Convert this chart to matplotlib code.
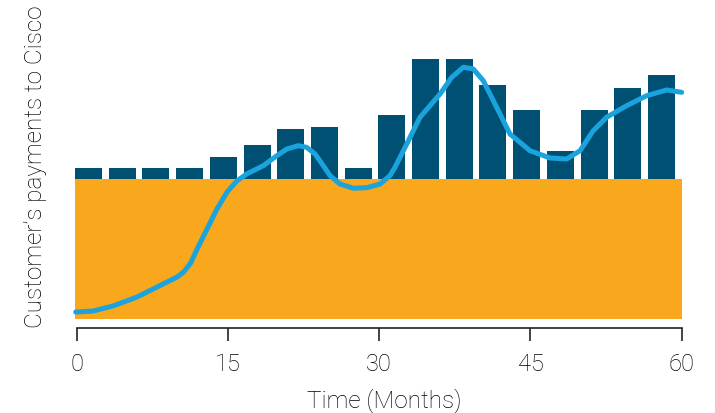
import matplotlib
matplotlib.use("Agg")
import matplotlib.pyplot as plt
from matplotlib.patches import Rectangle

# base payments (orange block) and extra payments per period (bars)
base_level = 10.0
bar_heights = [0.8, 0.8, 0.8, 0.8, 1.6, 2.4, 3.6, 3.7, 0.8, 4.6,
               8.6, 8.6, 6.7, 4.9, 2.0, 4.9, 6.5, 7.4]

# customer's payments curve
curve_months = [-0.1, 1.62, 3.60, 5.98, 7.57, 9.95, 10.6, 11.3, 11.94, 12.93,
                13.91, 14.91, 15.87, 16.86, 18.51, 19.84, 20.83, 21.98, 22.81, 23.63,
                24.46, 25.12, 26.11, 27.43, 28.76, 30.08, 31.07, 31.57, 32.73, 34.05,
                36.03, 37.19, 38.34, 39.33, 40.32, 41.65, 42.97, 44.96, 46.94, 48.60,
                49.92, 51.23, 52.56, 54.55, 56.53, 58.51, 60.0]
curve_values = [0.5, 0.57, 0.93, 1.57, 2.14, 3.0, 3.35, 4.0, 5.0, 6.43,
                7.86, 9.07, 9.85, 10.36, 10.95, 11.66, 12.14, 12.38, 12.26, 11.79,
                10.95, 10.24, 9.64, 9.34, 9.38, 9.64, 10.24, 10.84, 12.5, 14.41,
                16.07, 17.26, 17.98, 17.86, 17.02, 15.12, 13.21, 12.02, 11.5, 11.43,
                12.02, 13.45, 14.41, 15.24, 15.95, 16.36, 16.19]

xticks = [0, 15, 30, 45, 60]

ORANGE = "#F9A81D"
DARK_BLUE = "#005073"
LIGHT_BLUE = "#1BA3DD"
TEXT = "#000000"
AXIS = "#222222"
FONT = "Roboto"

fig = plt.figure(figsize=(7.15, 4.14), dpi=100)
ax = fig.add_axes([0.1073, 0.2053, 0.8461, 0.6643])

# orange block spans the whole period
x_start = -0.17
x_end = 60.0
ax.add_patch(Rectangle((x_start, 0), x_end - x_start, base_level,
                       facecolor=ORANGE, edgecolor="none", zorder=1, clip_on=False))

# bars sit on top of the orange block
pitch = (x_end - x_start) / len(bar_heights)
bar_w = 2.68
lefts = [x_start + i * pitch for i in range(len(bar_heights))]
ax.bar(lefts, bar_heights, width=bar_w, bottom=base_level, align="edge",
       color=DARK_BLUE, edgecolor="none", zorder=2, clip_on=False)

ax.plot(curve_months, curve_values, color=LIGHT_BLUE, lw=3.6,
        solid_capstyle="round", solid_joinstyle="round", zorder=3, clip_on=False)

ax.set_xlim(0, 60)
ax.set_ylim(-0.643, 19)
ax.set_xticks(xticks)
ax.set_xticklabels([str(t) for t in xticks], fontsize=17, family=FONT,
                   fontweight="light", color=TEXT)
ax.set_yticks([])
for side in ["left", "right", "top"]:
    ax.spines[side].set_visible(False)
ax.spines["bottom"].set_color(AXIS)
ax.spines["bottom"].set_linewidth(1.2)
ax.spines["bottom"].set_bounds(0, 60)
ax.tick_params(axis="x", length=9, width=1.2, color=AXIS, pad=8)

fig.text(384 / 715, 1 - 401 / 414, "Time (Months)", ha="center", va="center",
         fontsize=17.5, family=FONT, fontweight="light", color=TEXT)
fig.text(36 / 715, 1 - 167 / 414, "Customer\u2019s payments to Cisco", rotation=90,
         ha="center", va="center", fontsize=17.5, family=FONT, fontweight="light",
         color=TEXT)

fig.savefig("out.png", dpi=100)
